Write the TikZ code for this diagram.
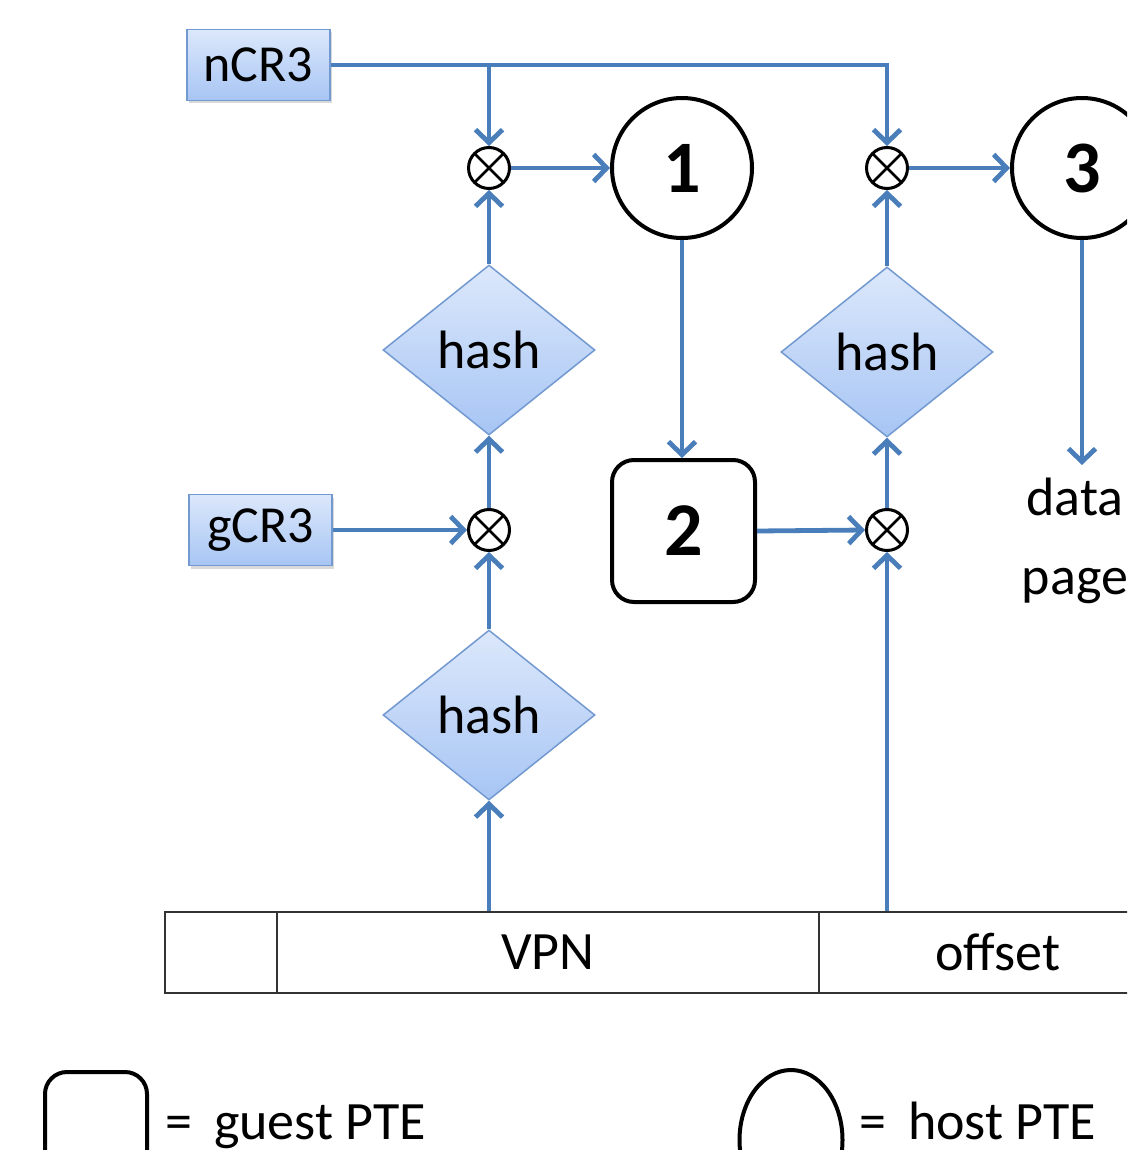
\documentclass[tikz,border=0pt]{standalone}
\usepackage{fontspec}
\setmainfont{Carlito}
\usetikzlibrary{shapes.geometric, arrows.meta, shadows}

\definecolor{flow}{HTML}{4A7EBB}
\definecolor{boxtop}{HTML}{DCE8FB}
\definecolor{boxbot}{HTML}{A7C5F4}
\definecolor{boxline}{HTML}{7399D1}

\tikzset{
  arr/.style={draw=flow, line width=4.8pt, -{Straight Barb[length=13pt,width=27pt]}},
  reg/.style={draw=boxline, line width=1.5pt, top color=boxtop, bottom color=boxbot,
    minimum width=143pt, minimum height=71pt, inner sep=0pt,
    font=\fontsize{52}{60}\selectfont,
    drop shadow={shadow xshift=2pt, shadow yshift=-3pt, opacity=0.3}},
  hashbox/.style={diamond, draw=boxline, line width=1.5pt, top color=boxtop, bottom color=boxbot,
    minimum width=212pt, minimum height=170pt, inner sep=0pt,
    font=\fontsize{54}{64}\selectfont},
  mult/.style={circle, draw=black, line width=3pt, minimum size=41pt, inner sep=0pt,
    path picture={\draw[black, line width=2.8pt]
      (path picture bounding box.north west) -- (path picture bounding box.south east)
      (path picture bounding box.north east) -- (path picture bounding box.south west);}},
  hpte/.style={circle, draw=black, line width=4pt, minimum size=140pt, inner sep=0pt,
    font=\fontsize{74}{80}\selectfont\bfseries},
  gpte/.style={rectangle, rounded corners=22pt, draw=black, line width=4pt,
    minimum width=143pt, minimum height=142pt, inner sep=0pt,
    font=\fontsize{76}{80}\selectfont\bfseries},
  cell/.style={draw=black!80, line width=1.8pt, minimum height=81pt, inner sep=0pt,
    font=\fontsize{54}{64}\selectfont},
  txt/.style={font=\fontsize{54}{79}\selectfont, inner sep=0pt},
}

\begin{document}
\begin{tikzpicture}[x=1pt, y=-1pt]
\useasboundingbox (0,0) rectangle (1127,1150);
\clip (0,0) rectangle (1127,1150);

% registers
\node[reg] (ncr3) at (258.5,65) {nCR3};
\node[reg] (gcr3) at (260.5,530) {gCR3};

% hash units
\node[hashbox] (hash1) at (489,350) {hash};
\node[hashbox] (hash2) at (489,715) {hash};
\node[hashbox] (hash3) at (887,352) {hash};

% combiners
\node[mult] (ox1) at (489,168) {};
\node[mult] (ox2) at (489,530) {};
\node[mult] (ox3) at (887,530) {};
\node[mult] (ox4) at (887,168) {};

% page table entries
\node[hpte] (hp1) at (682,168) {1};
\node[gpte] (gp2) at (683.5,531) {2};
\node[hpte] (hp3) at (1082,168) {3};

\node[txt, align=center, anchor=north, outer ysep=13pt] (data) at (1075,465) {data\\page};

% virtual address fields
\node[cell, minimum width=112pt] (blank) at (221,952.5) {};
\node[cell, minimum width=542pt] (vpn) at (548,952.5) {VPN};
\node[cell, minimum width=358pt] (off) at (998,952.5) {offset};

% connectors
\draw[arr] (ncr3.east) -| (ox4.north);
\draw[arr] (ncr3.east -| ox1) -- (ox1.north);
\draw[arr] (ox1.east) -- (hp1.west);
\draw[arr] (hash1.north) -- (ox1.south);
\draw[arr] (ox2.north) -- (hash1.south);
\draw[arr] (gcr3.east) -- (ox2.west);
\draw[arr] (hash2.north) -- (ox2.south);
\draw[arr] (vpn.north -| hash2) -- (hash2.south);
\draw[arr] (hp1.south) -- (gp2.north -| hp1);
\draw[arr] (gp2.east) -- (ox3.west);
\draw[arr] (off.north -| ox3) -- (ox3.south);
\draw[arr] (ox3.north) -- (hash3.south);
\draw[arr] (hash3.north) -- (ox4.south);
\draw[arr] (ox4.east) -- (hp3.west);
\draw[arr] (hp3.south) -- (hp3.south |- data.north);

% legend
\node[rectangle, rounded corners=22pt, draw=black, line width=4pt,
  minimum width=102pt, minimum height=124pt] (legg) at (96,1134) {};
\node[txt, anchor=base west] (leggt) at (165,1139) {=\hspace{22pt}guest PTE};
\node[ellipse, draw=black, line width=4pt, inner sep=0pt,
  minimum width=103pt, minimum height=140pt] (legh) at (791,1140) {};
\node[txt, anchor=base west] (leght) at (859,1139) {=\hspace{22pt}host PTE};
\end{tikzpicture}
\end{document}
